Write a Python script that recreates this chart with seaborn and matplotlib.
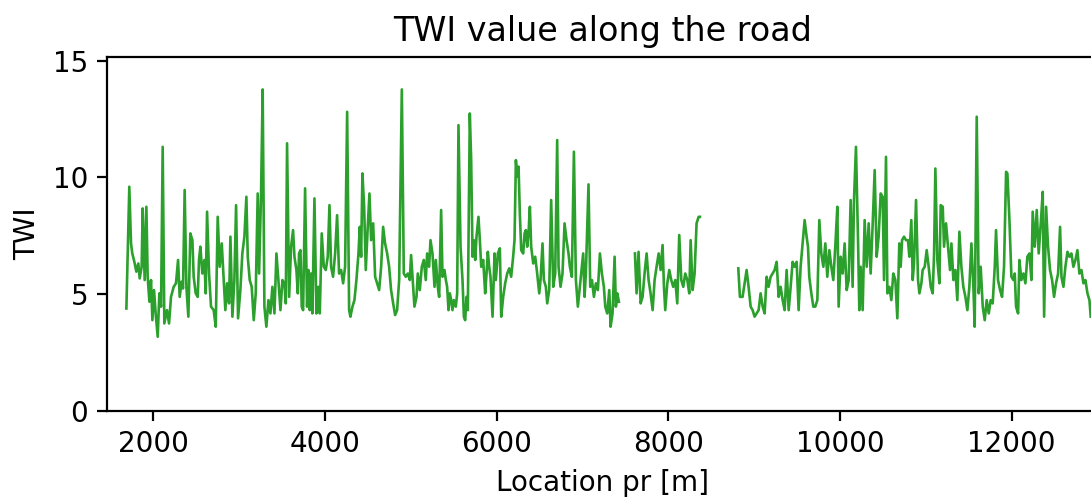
import matplotlib
matplotlib.use("Agg")
import matplotlib.pyplot as plt
import pandas as pd
import seaborn as sns

# Segment 1 of the road profile (location in m, TWI value)
seg1_loc = [1686, 1720, 1740, 1755, 1779, 1802, 1825, 1841, 1864, 1876, 1899, 1919, 1934, 1954, 1973, 1989,
            2008, 2027, 2051, 2070, 2090, 2109, 2128, 2159, 2183, 2206, 2237, 2264, 2288, 2307, 2330, 2346,
            2365, 2385, 2408, 2431, 2455, 2470, 2494, 2517, 2532, 2548, 2571, 2595, 2610, 2626, 2649, 2672,
            2703, 2727, 2750, 2773, 2797, 2820, 2839, 2859, 2882, 2898, 2921, 2944, 2964, 2987, 3014, 3037,
            3061, 3084, 3100, 3123, 3146, 3170, 3193, 3216, 3232, 3255, 3274, 3294, 3317, 3341,
            3364, 3387, 3411, 3434, 3457, 3481, 3504, 3527, 3543, 3558, 3582, 3605, 3628, 3644, 3667, 3683,
            3698, 3714, 3729, 3745, 3768, 3791, 3807, 3822, 3838, 3853, 3877, 3900, 3923, 3939, 3962, 3986,
            4009, 4032, 4052, 4071, 4094, 4118, 4141, 4164, 4188, 4211, 4234, 4258, 4281, 4296, 4320, 4343,
            4366, 4390, 4405, 4421, 4436, 4456, 4475, 4498, 4518, 4537, 4561, 4584, 4607, 4631, 4654, 4677,
            4700, 4724, 4747, 4770, 4794, 4817, 4840, 4864, 4895, 4918, 4941, 4965, 4988, 5003, 5027, 5042,
            5066, 5081, 5104, 5128, 5151, 5174, 5190, 5213,
            5229, 5252, 5276, 5291, 5314, 5330, 5353, 5369, 5392, 5408, 5423, 5439, 5454, 5470, 5485, 5501,
            5524, 5540, 5555, 5579, 5602, 5618, 5633, 5649, 5664, 5687, 5703, 5719, 5734, 5750, 5765, 5788,
            5804, 5820, 5843, 5866, 5882, 5897, 5913, 5928, 5952, 5975, 5990, 6014, 6037, 6053, 6076, 6099,
            6123, 6146, 6169, 6192, 6208, 6224, 6239, 6255, 6270, 6286, 6309, 6325, 6340, 6356, 6371, 6387,
            6402, 6426, 6449, 6472, 6496, 6511, 6534, 6550, 6573, 6589, 6612, 6635, 6659, 6682, 6705, 6721,
            6744, 6767, 6791, 6814, 6837, 6853, 6876, 6900, 6923, 6946, 6969, 6993, 7008, 7024, 7039, 7070,
            7090, 7110, 7133, 7156, 7179, 7203, 7226, 7249, 7265, 7288, 7312, 7327, 7350, 7374, 7389, 7405,
            7424]
seg1_twi = [4.38, 9.60, 7.17, 6.74, 6.38, 5.96, 6.31, 5.67, 6.17, 8.67, 5.60, 8.74, 5.74, 4.67, 5.60, 3.88,
            5.17, 4.17, 3.17, 5.03, 4.46, 11.31, 3.74, 4.31, 3.74, 4.88, 5.31, 5.46, 6.46, 4.88, 5.53, 5.24,
            9.46, 5.31, 4.03, 7.60, 7.31, 5.74, 5.03, 4.88, 6.46, 7.03, 5.88, 6.46, 5.03, 8.53, 5.88, 4.46,
            4.31, 3.60, 8.31, 6.17, 7.17, 5.60, 4.31, 5.46, 4.60, 7.46, 4.03, 5.60, 8.81, 3.96, 5.17, 6.74,
            7.46, 9.17, 6.60, 5.60, 5.31, 3.88, 5.03, 9.31, 5.88, 9.31, 13.77, 4.46, 3.60, 4.74,
            4.17, 5.31, 4.17, 6.74, 5.60, 4.31, 5.60, 5.46, 4.60, 11.46, 4.88, 7.03, 7.74, 6.60, 6.03, 5.03,
            6.74, 6.88, 4.46, 4.31, 9.53, 4.46, 6.03, 4.31, 5.88, 4.17, 9.10, 4.17, 5.31, 4.17, 7.60, 6.17,
            6.03, 6.60, 8.81, 6.17, 5.74, 6.74, 8.38, 5.88, 6.03, 5.46, 6.17, 12.81, 4.31, 4.03, 4.46, 4.74,
            5.60, 6.74, 7.88, 6.60, 10.17, 8.74, 6.03, 7.88, 9.31, 7.31, 8.03, 5.74, 5.46, 5.17, 6.17, 7.88,
            7.17, 6.74, 6.17, 5.17, 4.60, 4.10, 4.31, 5.60, 13.77, 5.88, 5.74, 5.88, 5.60, 6.67, 5.31, 4.46,
            4.88, 5.88, 5.17, 6.17, 6.46, 5.60, 6.74, 6.17,
            7.31, 6.74, 5.31, 6.46, 5.31, 4.88, 8.60, 5.74, 6.03, 5.60, 5.31, 4.31, 5.03, 4.74, 4.31, 4.74,
            4.46, 5.03, 12.24, 7.03, 5.60, 4.03, 3.88, 4.88, 4.31, 12.74, 10.74, 6.60, 7.31, 6.46, 7.46, 8.31,
            7.31, 6.17, 6.46, 5.03, 5.88, 6.81, 6.17, 5.74, 4.03, 6.74, 5.60, 6.74, 6.96, 4.03, 4.88, 5.46,
            5.88, 6.10, 5.74, 6.60, 7.31, 10.74, 10.03, 10.46, 8.46, 6.88, 6.74, 7.60, 7.74, 7.03, 7.60, 8.74,
            7.03, 6.31, 6.60, 5.88, 5.03, 5.60, 7.17, 5.60, 5.31, 4.60, 5.17, 9.03, 5.31, 5.88, 11.60, 6.17,
            5.31, 5.88, 8.03, 7.31, 6.74, 6.17, 5.74, 11.10, 5.60, 4.46, 5.31, 6.17, 6.74, 4.88, 5.88, 9.70,
            5.31, 5.60, 4.88, 5.46, 5.17, 6.74, 5.88, 5.31, 4.46, 4.17, 5.17, 3.60, 4.17, 6.60, 4.46, 5.03,
            4.67]

# Segment 2
seg2_loc = [7611, 7630, 7653, 7677, 7700, 7723, 7747, 7770, 7793, 7817, 7840, 7863, 7887, 7910, 7933, 7949,
            7964, 7988, 8011, 8034, 8057, 8081, 8104, 8127, 8151, 8174, 8197, 8221, 8244, 8260, 8283, 8306,
            8329, 8353, 8368]
seg2_twi = [6.74, 5.03, 6.81, 4.60, 4.88, 5.88, 6.74, 5.60, 5.03, 4.31, 5.60, 6.17, 6.74, 6.03, 7.10, 5.31,
            4.31, 5.46, 6.03, 5.60, 5.31, 5.60, 4.60, 7.53, 5.60, 5.31, 5.88, 5.60, 5.03, 7.31, 5.17, 5.88,
            8.03, 8.31, 8.31]

# Segment 3
seg3_loc = [8815, 8834, 8865, 8889, 8912, 8935, 8959, 8982, 9005, 9029, 9052, 9075, 9099, 9122, 9145, 9168,
            9192, 9215, 9238, 9262, 9285, 9308, 9332, 9355, 9378, 9402, 9425, 9448, 9471, 9495, 9518, 9541,
            9565, 9588, 9611, 9627, 9642, 9666, 9689, 9712, 9736, 9759, 9782, 9806, 9829, 9852, 9876, 9899,
            9922, 9945, 9969, 9984, 10008, 10031, 10054, 10078, 10101, 10124, 10147, 10163, 10186, 10210,
            10225, 10241, 10264, 10287, 10311, 10334, 10357, 10381, 10404, 10427, 10450, 10474, 10497, 10513,
            10536, 10552, 10575, 10598, 10621, 10645, 10668, 10691, 10707, 10723, 10746, 10769, 10792, 10808,
            10831, 10847, 10862, 10886, 10909, 10925, 10948, 10963, 10987, 11010, 11033, 11057, 11080, 11096,
            11111, 11134, 11158, 11173, 11197, 11212, 11235, 11259, 11282, 11298, 11321, 11344, 11367, 11391,
            11414, 11437, 11461, 11484, 11507, 11531, 11554, 11569, 11593, 11616, 11639, 11663, 11686, 11709,
            11733, 11756, 11779, 11803, 11818, 11841, 11865, 11888, 11911, 11935, 11950, 11974, 11997, 12020,
            12036, 12051, 12075, 12090, 12113, 12137, 12160, 12183, 12207, 12230, 12245, 12269, 12292, 12315,
            12339, 12362, 12378, 12401, 12424, 12447, 12471, 12494, 12517, 12541, 12564, 12580, 12603, 12626,
            12650, 12673, 12696, 12719, 12743, 12766, 12789, 12813, 12836, 12859, 12883, 12906, 12921]
seg3_twi = [6.10, 4.88, 4.88, 5.46, 6.03, 5.31, 4.46, 4.31, 4.03, 4.17, 4.31, 5.03, 4.46, 4.17, 5.74, 5.31,
            5.74, 5.88, 6.03, 6.38, 4.88, 5.31, 4.74, 4.31, 6.03, 4.31, 5.31, 6.38, 6.17, 6.38, 4.31, 6.17,
            7.17, 8.17, 7.46, 7.03, 5.74, 5.03, 4.46, 4.46, 4.74, 8.17, 6.74, 6.17, 7.17, 5.74, 6.88, 6.17,
            5.60, 7.03, 8.74, 4.46, 6.60, 5.88, 7.17, 5.17, 5.60, 9.03, 5.31, 9.03, 11.31, 7.31,
            4.31, 6.17, 4.31, 8.17, 6.17, 8.03, 5.88, 8.03, 10.31, 6.60, 7.46, 9.31, 9.17, 5.60,
            10.88, 5.03, 5.31, 4.74, 5.88, 5.60, 3.96, 7.17, 6.17, 7.31, 7.46, 7.31, 7.31, 6.60,
            8.17, 5.60, 6.31, 9.03, 5.60, 5.03, 5.46, 6.03, 6.17, 6.88, 6.17, 5.31, 5.03, 6.74,
            10.38, 6.46, 5.46, 8.81, 8.74, 7.03, 8.03, 7.03, 6.03, 7.17, 5.60, 6.03, 4.74, 7.67,
            6.17, 5.31, 4.88, 4.31, 5.31, 7.17, 5.31, 3.60, 12.60, 5.03, 6.17, 4.46, 3.88, 4.74,
            4.17, 4.74, 4.60, 6.17, 7.74, 5.60, 5.17, 4.88, 6.17, 10.24, 10.17, 8.17, 5.74, 5.60,
            5.88, 4.46, 4.17, 6.46, 5.60, 5.88, 5.46, 6.60, 6.74, 5.60, 8.53, 7.03, 8.60, 6.74,
            8.03, 9.38, 4.03, 8.74, 7.03, 6.03, 5.60, 4.88, 5.46, 5.88, 7.88, 5.74, 5.31, 6.17,
            6.81, 6.60, 6.74, 6.17, 6.46, 6.88, 5.88, 6.03, 5.46, 5.60, 5.03, 4.74, 4.03]

x_ticks = [2000, 4000, 6000, 8000, 10000, 12000]
y_ticks = [0, 5, 10, 15]

segments = [(seg1_loc, seg1_twi), (seg2_loc, seg2_twi), (seg3_loc, seg3_twi)]
df = pd.concat(
    [pd.DataFrame({"location": loc, "twi": twi, "segment": i}) for i, (loc, twi) in enumerate(segments)],
    ignore_index=True,
)

dpi = 200
fig = plt.figure(figsize=(1091 / dpi, 498 / dpi), dpi=dpi)
ax = fig.add_axes([107.5 / 1091, (498 - 410.7) / 498, 990 / 1091, 353.4 / 498])

sns.lineplot(data=df, x="location", y="twi", units="segment", estimator=None,
             color="#2ca02c", linewidth=0.95, ax=ax)

ax.set_xlim(1466, 13000)
ax.set_ylim(0, 1.1 * df["twi"].max())
ax.set_xticks(x_ticks)
ax.set_yticks(y_ticks)
ax.set_title("TWI value along the road")
ax.set_xlabel("Location pr [m]")
ax.set_ylabel("TWI")

fig.savefig("out.png", dpi=dpi)
